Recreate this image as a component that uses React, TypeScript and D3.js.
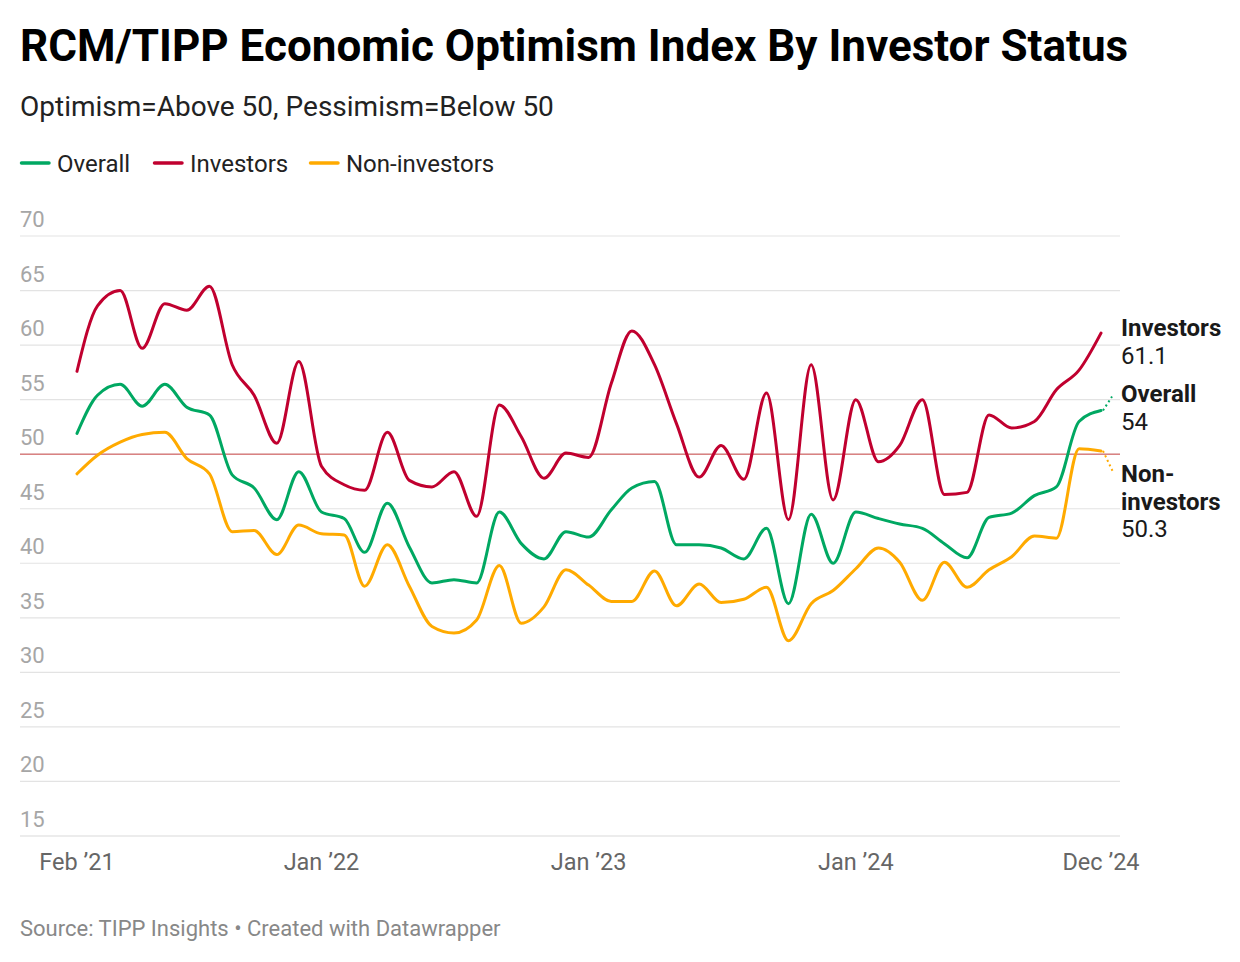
import { useEffect, useRef } from "react";
import * as d3 from "d3";

// Monthly readings, Feb 2021 - Dec 2024
const months: string[] = [
  "2021-02", "2021-03", "2021-04", "2021-05", "2021-06", "2021-07", "2021-08", "2021-09", "2021-10", "2021-11", "2021-12",
  "2022-01", "2022-02", "2022-03", "2022-04", "2022-05", "2022-06", "2022-07", "2022-08", "2022-09", "2022-10", "2022-11", "2022-12",
  "2023-01", "2023-02", "2023-03", "2023-04", "2023-05", "2023-06", "2023-07", "2023-08", "2023-09", "2023-10", "2023-11", "2023-12",
  "2024-01", "2024-02", "2024-03", "2024-04", "2024-05", "2024-06", "2024-07", "2024-08", "2024-09", "2024-10", "2024-11", "2024-12",
];

const overall: number[] = [
  51.9, 55.4, 56.4, 54.4, 56.4, 54.3, 53.6, 48.1, 46.9, 44.0, 48.4,
  44.7, 44.1, 41.0, 45.5, 41.5, 38.2, 38.5, 38.2, 44.7, 41.8, 40.4, 42.9,
  42.4, 44.9, 46.9, 47.5, 41.7, 41.7, 41.4, 40.4, 43.2, 36.3, 44.5, 40.0,
  44.7, 44.1, 43.6, 43.2, 41.8, 40.5, 44.2, 44.6, 46.2, 47.0, 53.0, 54.0,
];

const investors: number[] = [
  57.6, 63.6, 65.0, 59.7, 63.8, 63.2, 65.4, 58.2, 55.4, 51.0, 58.5,
  48.9, 47.2, 46.7, 52.0, 47.6, 47.0, 48.4, 44.3, 54.5, 51.6, 47.8, 50.1,
  49.7, 56.5, 61.3, 58.2, 52.8, 47.9, 50.8, 47.7, 55.6, 44.0, 58.2, 45.8,
  55.0, 49.3, 50.8, 55.0, 46.3, 46.5, 53.6, 52.4, 53.0, 55.9, 57.7, 61.1,
];

const nonInvestors: number[] = [
  48.2, 49.9, 51.1, 51.8, 52.0, 49.6, 48.2, 42.9, 43.0, 40.8, 43.5,
  42.7, 42.6, 37.9, 41.7, 37.9, 34.2, 33.6, 34.8, 39.8, 34.5, 36.0, 39.4,
  38.0, 36.5, 36.5, 39.3, 36.1, 38.1, 36.4, 36.7, 37.8, 32.9, 36.3, 37.5,
  39.5, 41.4, 40.1, 36.6, 40.1, 37.8, 39.4, 40.6, 42.5, 42.3, 50.5, 50.3,
];

const yTicks: number[] = [15, 20, 25, 30, 35, 40, 45, 50, 55, 60, 65, 70];
const xTickMonths: string[] = ["2021-02", "2022-01", "2023-01", "2024-01", "2024-12"];
const xTickLabels: string[] = ["Feb \u201921", "Jan \u201922", "Jan \u201923", "Jan \u201924", "Dec \u201924"];

const FONT = "Roboto, 'Noto Sans', sans-serif";

export default function App() {
  const ref = useRef<SVGSVGElement>(null);

  useEffect(() => {
    if (!ref.current) return;
    const svg = d3.select(ref.current);
    svg.selectAll("*").remove();

    const parse = d3.timeParse("%Y-%m");
    const dates = months.map((m) => parse(m) as Date);

    const series = [
      { name: "Overall", values: overall, color: "#00a862" },
      { name: "Investors", values: investors, color: "#c0002f" },
      { name: "Non-investors", values: nonInvestors, color: "#ffaa00" },
    ];

    const x = d3
      .scaleTime()
      .domain([dates[0], dates[dates.length - 1]])
      .range([77, 1101]);
    const y = d3.scaleLinear().domain([15, 70]).range([836, 236]);

    const left = 20;
    const right = 1120;

    // titles
    svg
      .append("text")
      .attr("x", 20)
      .attr("y", 61)
      .attr("font-family", FONT)
      .attr("font-weight", 700)
      .attr("font-size", 44)
      .attr("fill", "#000")
      .text("RCM/TIPP Economic Optimism Index By Investor Status");

    svg
      .append("text")
      .attr("x", 20)
      .attr("y", 116)
      .attr("font-family", FONT)
      .attr("font-size", 28)
      .attr("fill", "#222")
      .text("Optimism=Above 50, Pessimism=Below 50");

    // legend
    const legendX = [20, 153, 309];
    series.forEach((s, i) => {
      svg
        .append("line")
        .attr("x1", legendX[i] + 1.5)
        .attr("x2", legendX[i] + 29)
        .attr("y1", 163)
        .attr("y2", 163)
        .attr("stroke", s.color)
        .attr("stroke-width", 3.5)
        .attr("stroke-linecap", "round");
      svg
        .append("text")
        .attr("x", legendX[i] + 37)
        .attr("y", 172)
        .attr("font-family", FONT)
        .attr("font-size", 24)
        .attr("fill", "#222")
        .text(s.name);
    });

    // grid + y labels
    const grid = svg.append("g");
    yTicks.forEach((t) => {
      grid
        .append("line")
        .attr("x1", left)
        .attr("x2", right)
        .attr("y1", y(t))
        .attr("y2", y(t))
        .attr("stroke", t === 15 ? "#d9d9d9" : "#e3e3e3")
        .attr("stroke-width", 1.2);
      grid
        .append("text")
        .attr("x", left)
        .attr("y", y(t) - 9)
        .attr("font-family", FONT)
        .attr("font-size", 22)
        .attr("fill", "#a6a6a6")
        .text(t);
    });

    // 50 reference line
    svg
      .append("line")
      .attr("x1", left)
      .attr("x2", right)
      .attr("y1", y(50))
      .attr("y2", y(50))
      .attr("stroke", "#d98282")
      .attr("stroke-width", 1.6);

    // x labels
    xTickMonths.forEach((m, i) => {
      svg
        .append("text")
        .attr("x", x(parse(m) as Date))
        .attr("y", 870)
        .attr("text-anchor", "middle")
        .attr("font-family", FONT)
        .attr("font-size", 23.5)
        .attr("fill", "#666")
        .text(xTickLabels[i]);
    });

    // lines
    const line = d3
      .line<number>()
      .x((_, i) => x(dates[i]))
      .y((d) => y(d))
      .curve(d3.curveMonotoneX);

    series.forEach((s) => {
      svg
        .append("path")
        .attr("d", line(s.values))
        .attr("fill", "none")
        .attr("stroke", s.color)
        .attr("stroke-width", 3)
        .attr("stroke-linejoin", "round")
        .attr("stroke-linecap", "round");
    });

    // dotted connectors to end labels
    const lastX = x(dates[dates.length - 1]);
    const connectors = [
      { values: overall, color: "#00a862", dx: 11, dy: -14 },
      { values: nonInvestors, color: "#ffaa00", dx: 12, dy: 21 },
    ];
    connectors.forEach((c) => {
      const ly = y(c.values[c.values.length - 1]);
      svg
        .append("line")
        .attr("x1", lastX + 2)
        .attr("y1", ly)
        .attr("x2", lastX + c.dx)
        .attr("y2", ly + c.dy)
        .attr("stroke", c.color)
        .attr("stroke-width", 2)
        .attr("stroke-dasharray", "2,3");
    });

    // end labels
    const endLabels = [
      { lines: ["Investors"], value: investors[investors.length - 1], top: 336 },
      { lines: ["Overall"], value: overall[overall.length - 1], top: 402 },
      { lines: ["Non-", "investors"], value: nonInvestors[nonInvestors.length - 1], top: 482 },
    ];
    endLabels.forEach((l) => {
      const t = svg
        .append("text")
        .attr("x", 1121)
        .attr("y", l.top)
        .attr("font-family", FONT)
        .attr("font-size", 24)
        .attr("fill", "#1a1a1a");
      l.lines.forEach((ln, i) => {
        t.append("tspan")
          .attr("x", 1121)
          .attr("dy", i === 0 ? 0 : 27.5)
          .attr("font-weight", 700)
          .text(ln);
      });
      t.append("tspan").attr("x", 1121).attr("dy", 27.5).text(String(l.value));
    });

    // footer
    svg
      .append("text")
      .attr("x", 20)
      .attr("y", 936)
      .attr("font-family", FONT)
      .attr("font-size", 22)
      .attr("fill", "#888")
      .text("Source: TIPP Insights \u2022 Created with Datawrapper");
  }, []);

  return (
    <svg
      ref={ref}
      width={1240}
      height={962}
      style={{ position: "absolute", left: 0, top: 0, background: "#fff" }}
    />
  );
}
